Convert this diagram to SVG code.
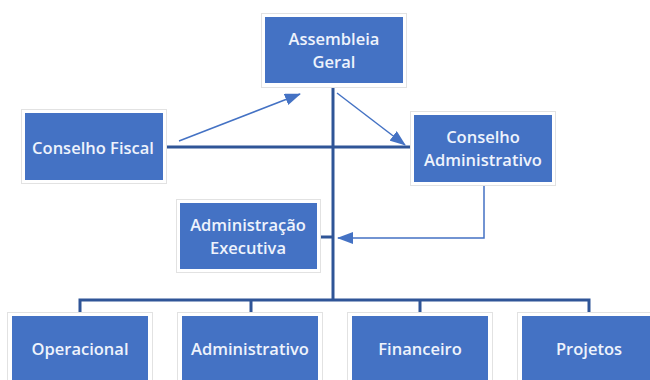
<svg xmlns="http://www.w3.org/2000/svg" width="650" height="380" viewBox="0 0 650 380">
<defs>
<style>
.frame{fill:#ffffff;stroke:#e2e2e2;stroke-width:1}
.box{fill:#4472C4}
.lbl{font-family:"Open Sans","Liberation Sans",sans-serif;font-size:16.5px;font-weight:600;fill:#eef3fc;text-anchor:middle;dominant-baseline:central}
.trunk{stroke:#2F5597;stroke-width:3;fill:none}
.arr{stroke:#4472C4;stroke-width:1.5;fill:none;marker-end:url(#ah)}
</style>
<marker id="ah" markerUnits="userSpaceOnUse" markerWidth="16" markerHeight="12" refX="15" refY="6" orient="auto">
<path d="M0,0 L16,6 L0,12 Z" fill="#4472C4"/>
</marker>
</defs>
<rect width="650" height="380" fill="#ffffff"/>
<g id="connectors">
<path class="trunk" d="M333,87 V300"/>
<path class="trunk" d="M166,147 H411"/>
<path class="trunk" d="M320,237 H333"/>
<path class="trunk" d="M80,313 V300 H589 V313"/>
<path class="trunk" d="M251,300 V313 M420,300 V313"/>
<path class="arr" d="M179,141 L300,94"/>
<path class="arr" d="M337,93 L405,145"/>
<path class="arr" d="M484,185 V238 H338"/>
</g>
<g id="assembleia-geral">
<rect class="frame" x="261.5" y="13.5" width="145" height="74"/>
<rect class="box" x="265" y="17" width="138" height="66"/>
<text class="lbl" x="334" y="38">Assembleia</text>
<text class="lbl" x="334" y="61">Geral</text>
</g>
<g id="conselho-fiscal">
<rect class="frame" x="21.5" y="109.5" width="145" height="74"/>
<rect class="box" x="25" y="113" width="138" height="67"/>
<text class="lbl" x="93" y="147">Conselho Fiscal</text>
</g>
<g id="conselho-administrativo">
<rect class="frame" x="410.5" y="111.5" width="145" height="74"/>
<rect class="box" x="414" y="115" width="138" height="67"/>
<text class="lbl" x="483" y="136">Conselho</text>
<text class="lbl" x="483" y="159">Administrativo</text>
</g>
<g id="administracao-executiva">
<rect class="frame" x="176.5" y="199.5" width="144" height="73"/>
<rect class="box" x="180" y="203" width="137" height="66"/>
<text class="lbl" x="248" y="224">Administração</text>
<text class="lbl" x="248" y="247">Executiva</text>
</g>
<g id="operacional">
<rect class="frame" x="7.5" y="312.5" width="145" height="80"/>
<rect class="box" x="12" y="316" width="136" height="70"/>
<text class="lbl" x="80" y="348">Operacional</text>
</g>
<g id="administrativo">
<rect class="frame" x="177.5" y="312.5" width="145" height="80"/>
<rect class="box" x="182" y="316" width="136" height="70"/>
<text class="lbl" x="250" y="348">Administrativo</text>
</g>
<g id="financeiro">
<rect class="frame" x="347.5" y="312.5" width="145" height="80"/>
<rect class="box" x="352" y="316" width="136" height="70"/>
<text class="lbl" x="420" y="348">Financeiro</text>
</g>
<g id="projetos">
<rect class="frame" x="517.5" y="312.5" width="145" height="80"/>
<rect class="box" x="522" y="316" width="136" height="70"/>
<text class="lbl" x="589" y="348">Projetos</text>
</g>
</svg>
